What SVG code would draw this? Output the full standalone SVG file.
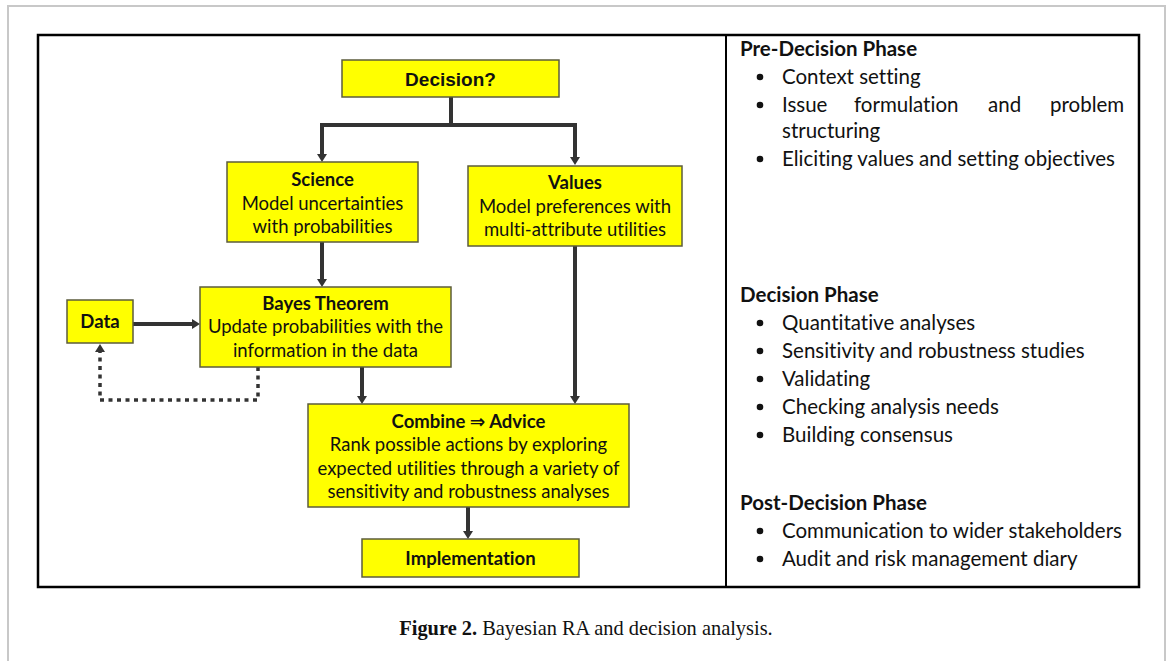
<svg xmlns="http://www.w3.org/2000/svg" width="1168" height="661" viewBox="0 0 1168 661">
<defs>
<style>
text { font-variant-ligatures: none; }
.box { fill:#ffff00; stroke:#5c5c3d; stroke-width:1.5; }
.t { font-family: Lato, "Liberation Sans", "DejaVu Sans", sans-serif; font-size:18.5px; fill:#111; text-anchor:middle; }
.b { font-weight:bold; }
.ar { font-family:"Liberation Sans", Arial, sans-serif; font-weight:bold; font-size:19px; fill:#111; text-anchor:middle; }
.conn { stroke:#333; stroke-width:4; fill:none; }
.dot { stroke:#333; stroke-width:3.5; fill:none; stroke-dasharray:4 4.5; }
.rc { font-family: Lato, "Liberation Sans", sans-serif; font-size:20.5px; fill:#111; }
.cap { font-family:"Liberation Serif", "Times New Roman", serif; font-size:20.4px; fill:#111; text-anchor:middle; }
</style>
<marker id="ah" markerUnits="userSpaceOnUse" markerWidth="10" markerHeight="10" refX="0" refY="5" orient="auto">
<path d="M0,0 L8,5 L0,10 z" fill="#333"/>
</marker>
</defs>
<rect x="0" y="0" width="1168" height="661" fill="#ffffff"/>
<path d="M8,661 V6 H1165 V661" fill="none" stroke="#c8c8c8" stroke-width="2"/>
<rect x="38" y="35" width="1101" height="552" fill="none" stroke="#000" stroke-width="2.5"/>
<line x1="726" y1="35" x2="726" y2="587" stroke="#000" stroke-width="2"/>

<g id="connectors">
<path class="conn" d="M451,97 V125 H322 V154" marker-end="url(#ah)"/>
<path class="conn" d="M451,125 H575 V157" marker-end="url(#ah)"/>
<path class="conn" d="M322,242 V279" marker-end="url(#ah)"/>
<path class="conn" d="M575,246 V396" marker-end="url(#ah)"/>
<path class="conn" d="M133,324 H192" marker-end="url(#ah)"/>
<path class="conn" d="M362,367 V396" marker-end="url(#ah)"/>
<path class="conn" d="M468,507 V531" marker-end="url(#ah)"/>
<path class="dot" d="M258,367 V400 H100 V352" marker-end="url(#ah)"/>
</g>

<g id="decision">
<rect class="box" x="342" y="60" width="217" height="37"/>
<text class="ar" x="450.5" y="86">Decision?</text>
</g>
<g id="science">
<rect class="box" x="227" y="162" width="191" height="80"/>
<text class="t b" x="322.5" y="186">Science</text>
<text class="t" x="322.5" y="210">Model uncertainties</text>
<text class="t" x="322.5" y="233">with probabilities</text>
</g>
<g id="values">
<rect class="box" x="468" y="166" width="214" height="80"/>
<text class="t b" x="575" y="189">Values</text>
<text class="t" x="575" y="213">Model preferences with</text>
<text class="t" x="575" y="236">multi-attribute utilities</text>
</g>
<g id="data">
<rect class="box" x="67" y="300" width="66" height="43"/>
<text class="t b" x="100" y="328">Data</text>
</g>
<g id="bayes">
<rect class="box" x="200" y="287" width="251" height="80"/>
<text class="t b" x="325.5" y="310">Bayes Theorem</text>
<text class="t" x="325.5" y="333">Update probabilities with the</text>
<text class="t" x="325.5" y="357">information in the data</text>
</g>
<g id="combine">
<rect class="box" x="308" y="404" width="321" height="103"/>
<text class="t b" x="468.5" y="428">Combine ⇒ Advice</text>
<text class="t" x="468.5" y="451">Rank possible actions by exploring</text>
<text class="t" x="468.5" y="475">expected utilities through a variety of</text>
<text class="t" x="468.5" y="498">sensitivity and robustness analyses</text>
</g>
<g id="implementation">
<rect class="box" x="362" y="539" width="217" height="38"/>
<text class="t b" x="470.5" y="565">Implementation</text>
</g>

<g id="phases">
<text class="rc b" x="740" y="56">Pre-Decision Phase</text>
<circle cx="760" cy="77" r="3.3" fill="#111"/>
<text class="rc" x="782" y="84">Context setting</text>
<circle cx="760" cy="105" r="3.3" fill="#111"/>
<text class="rc" y="112"><tspan x="782">Issue</tspan><tspan x="854">formulation</tspan><tspan x="988">and</tspan><tspan x="1050">problem</tspan></text>
<text class="rc" x="782" y="138">structuring</text>
<circle cx="760" cy="159" r="3.3" fill="#111"/>
<text class="rc" x="782" y="166">Eliciting values and setting objectives</text>

<text class="rc b" x="740" y="302">Decision Phase</text>
<circle cx="760" cy="323" r="3.3" fill="#111"/>
<text class="rc" x="782" y="330">Quantitative analyses</text>
<circle cx="760" cy="351" r="3.3" fill="#111"/>
<text class="rc" x="782" y="358">Sensitivity and robustness studies</text>
<circle cx="760" cy="379" r="3.3" fill="#111"/>
<text class="rc" x="782" y="386">Validating</text>
<circle cx="760" cy="407" r="3.3" fill="#111"/>
<text class="rc" x="782" y="414">Checking analysis needs</text>
<circle cx="760" cy="435" r="3.3" fill="#111"/>
<text class="rc" x="782" y="442">Building consensus</text>

<text class="rc b" x="740" y="510">Post-Decision Phase</text>
<circle cx="760" cy="531" r="3.3" fill="#111"/>
<text class="rc" x="782" y="538">Communication to wider stakeholders</text>
<circle cx="760" cy="559" r="3.3" fill="#111"/>
<text class="rc" x="782" y="566">Audit and risk management diary</text>
</g>

<text class="cap" x="586" y="635"><tspan font-weight="bold">Figure 2.</tspan> Bayesian RA and decision analysis.</text>
</svg>
